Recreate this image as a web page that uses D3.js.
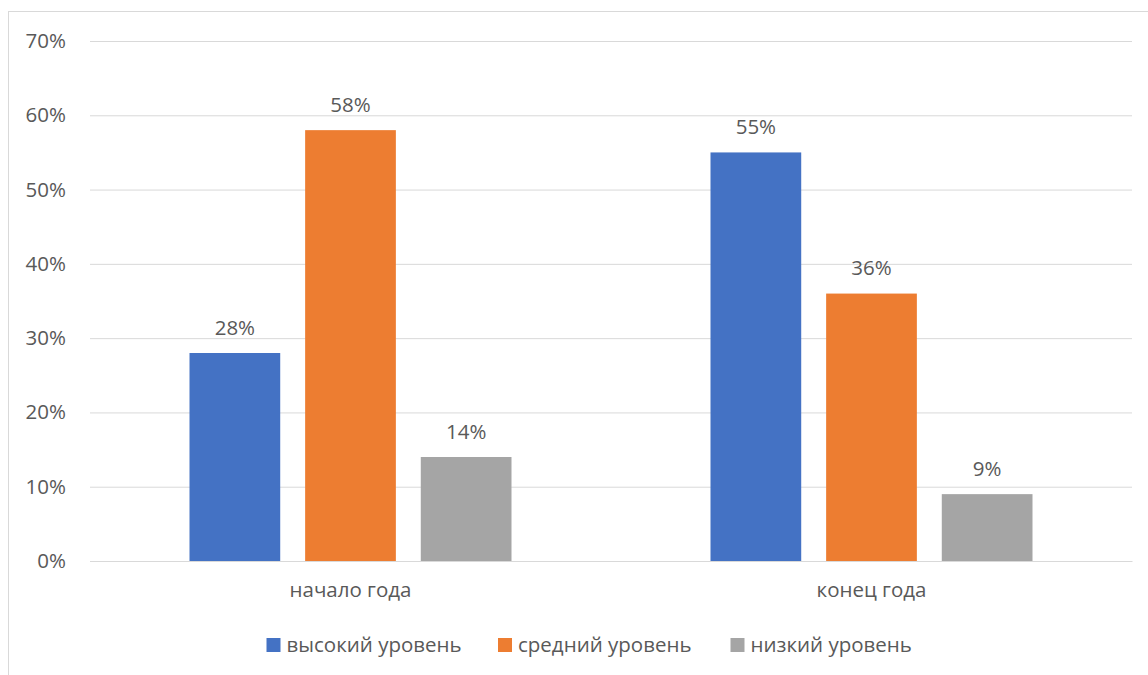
<!DOCTYPE html>
<html>
<head>
<meta charset="utf-8">
<script src="https://cdn.jsdelivr.net/npm/d3@7"></script>
<style>
  html, body { margin: 0; padding: 0; background: #fff; }
  svg { display: block; }
  text { font-family: "Open Sans", sans-serif; fill: #595959; }
</style>
</head>
<body>
<svg id="chart" width="1148" height="675"></svg>
<script>
const categories = ["начало года", "конец года"];
const seriesNames = ["высокий уровень", "средний уровень", "низкий уровень"];
const seriesColors = ["#4472C4", "#ED7D31", "#A5A5A5"];
const highValues = [28, 55];
const midValues = [58, 36];
const lowValues = [14, 9];
const yTicks = [0, 10, 20, 30, 40, 50, 60, 70];

const seriesValues = [highValues, midValues, lowValues];
const FS = 20.5;

const svg = d3.select("#chart");
const plot = { left: 90, right: 1132, top: 41, bottom: 561 };

// chart border
svg.append("rect")
  .attr("x", 8.5).attr("y", 11.5)
  .attr("width", 1200).attr("height", 700)
  .attr("fill", "none").attr("stroke", "#D9D9D9").attr("stroke-width", 1);

const y = d3.scaleLinear().domain([0, 70]).range([plot.bottom, plot.top]);
const x0 = d3.scaleBand().domain(categories).range([plot.left, plot.right]).padding(0);
const groupFrac = 322 / 521;
const groupW = x0.bandwidth() * groupFrac;
const x1 = d3.scaleBand().domain(seriesNames).range([0, groupW]).paddingInner(0.2155).paddingOuter(0);
const groupOffset = (x0.bandwidth() - groupW) / 2;

// gridlines + y labels
const yAxis = d3.axisLeft(y).tickValues(yTicks).tickFormat(d => d + "%").tickSize(-(plot.right - plot.left)).tickPadding(24);
const gy = svg.append("g").attr("transform", `translate(${plot.left},0)`).call(yAxis);
gy.select(".domain").remove();
gy.selectAll(".tick line").attr("stroke", "#D9D9D9").attr("stroke-width", 1);
gy.selectAll(".tick text").attr("font-size", FS).attr("fill", "#595959").attr("font-family", "Open Sans, sans-serif");

// x axis labels
const xAxis = d3.axisBottom(x0).tickSize(0).tickPadding(21.5);
const gx = svg.append("g").attr("transform", `translate(0,${plot.bottom})`).call(xAxis);
gx.select(".domain").attr("stroke", "#D9D9D9");
gx.selectAll(".tick text").attr("font-size", FS).attr("fill", "#595959").attr("font-family", "Open Sans, sans-serif");

// bars
const data = [];
categories.forEach((c, ci) => {
  seriesNames.forEach((s, si) => {
    data.push({ cat: c, series: s, value: seriesValues[si][ci], color: seriesColors[si] });
  });
});

const bars = svg.append("g");
bars.selectAll("rect").data(data).join("rect")
  .attr("x", d => x0(d.cat) + groupOffset + x1(d.series))
  .attr("y", d => y(d.value))
  .attr("width", x1.bandwidth())
  .attr("height", d => y(0) - y(d.value))
  .attr("fill", d => d.color);

bars.selectAll("text").data(data).join("text")
  .attr("x", d => x0(d.cat) + groupOffset + x1(d.series) + x1.bandwidth() / 2)
  .attr("y", d => y(d.value) - 18.3)
  .attr("text-anchor", "middle")
  .attr("font-size", FS)
  .text(d => d.value + "%");

// legend
const legendX = [266.5, 498, 730.5];
const legend = svg.append("g");
seriesNames.forEach((s, i) => {
  legend.append("rect").attr("x", legendX[i]).attr("y", 638).attr("width", 14).attr("height", 14).attr("fill", seriesColors[i]);
  legend.append("text").attr("x", legendX[i] + 20).attr("y", 652).attr("font-size", FS).text(s);
});
</script>
</body>
</html>
